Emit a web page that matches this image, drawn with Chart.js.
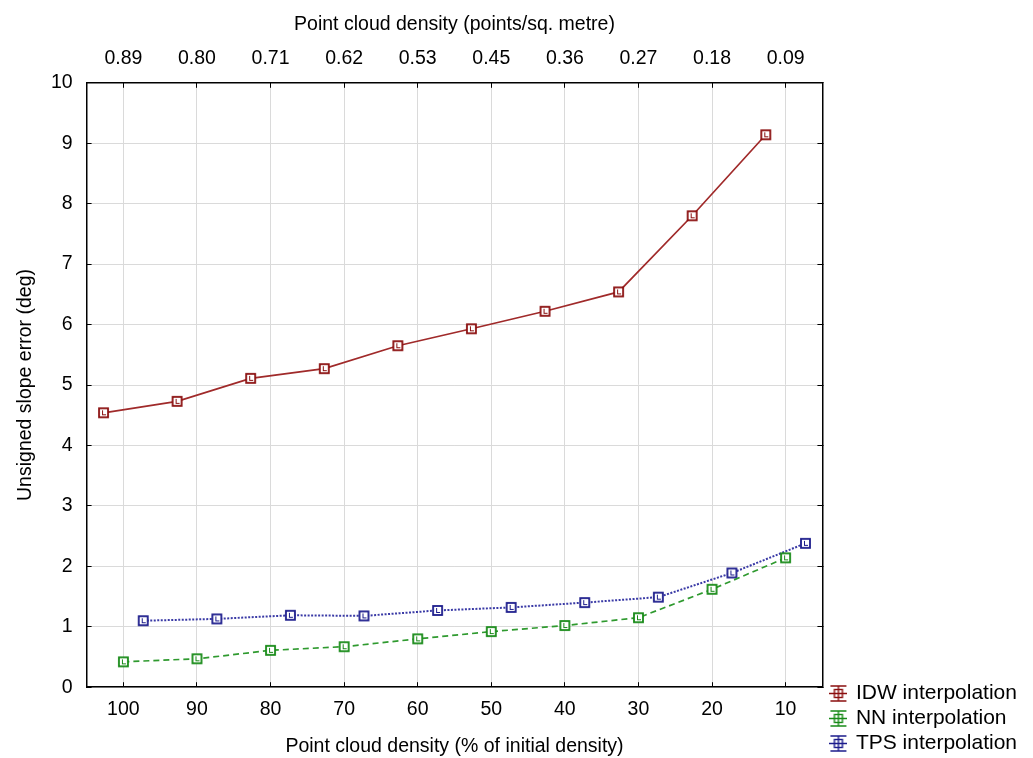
<!DOCTYPE html>
<html>
<head>
<meta charset="utf-8">
<title>Slope error vs point cloud density</title>
<script src="https://cdn.jsdelivr.net/npm/chart.js@4/dist/chart.umd.min.js"></script>
<style>
  body { margin: 0; background: #fff; }
  canvas { display: block; }
</style>
</head>
<body>
<canvas id="chart" width="1033" height="758"></canvas>
<script>
// density categories (% of initial) and matching points/sq. metre labels
const densityPct = [100, 90, 80, 70, 60, 50, 40, 30, 20, 10];
const densityPerSqM = ["0.89", "0.80", "0.71", "0.62", "0.53", "0.45", "0.36", "0.27", "0.18", "0.09"];

// unsigned slope error (deg)
const idwError = [4.54, 4.73, 5.11, 5.27, 5.65, 5.93, 6.22, 6.54, 7.80, 9.14];
const nnError = [0.42, 0.47, 0.61, 0.67, 0.80, 0.92, 1.02, 1.15, 1.62, 2.14];
const tpsError = [1.10, 1.13, 1.19, 1.18, 1.27, 1.32, 1.40, 1.49, 1.89, 2.38];

const FONT = "'Liberation Sans', Arial, sans-serif";
const SHIFT = 2.7; // series are drawn side by side around each category

// hollow square with a tiny error bar inside
function markerImage(color) {
    var c = document.createElement("canvas");
    c.width = 13;
    c.height = 13;
    var g = c.getContext("2d");
    g.fillStyle = "#fff";
    g.fillRect(2, 2, 9, 9);
    g.strokeStyle = color;
    g.lineWidth = 1.8;
    g.strokeRect(2, 2, 9, 9);
    g.lineWidth = 1;
    g.beginPath();
    g.moveTo(5.5, 4); g.lineTo(5.5, 8.5);
    g.moveTo(5, 8.5); g.lineTo(9, 8.5);
    g.stroke();
    return c;
}

function legendImage(color) {
    var c = document.createElement("canvas");
    c.width = 18;
    c.height = 17;
    var g = c.getContext("2d");
    g.strokeStyle = color;
    g.lineWidth = 1.4;
    g.beginPath();
    g.moveTo(1, 1); g.lineTo(17, 1);
    g.moveTo(1, 16); g.lineTo(17, 16);
    g.moveTo(9, 1); g.lineTo(9, 16);
    g.moveTo(0, 8.5); g.lineTo(18, 8.5);
    g.stroke();
    g.strokeRect(5, 4.5, 8, 8);
    return c;
}

function points(values, shift) {
    return values.map((v, i) => ({x: densityPct[i] + shift, y: v}));
}

function series(label, values, shift, lineColor, markColor, dash, width) {
    return {
        label: label,
        data: points(values, shift),
        borderColor: lineColor,
        backgroundColor: markColor,
        borderWidth: width,
        borderDash: dash,
        pointStyle: markerImage(markColor),
        legendImage: legendImage(markColor),
        pointRadius: 6,
        tension: 0
    };
}

const datasets = [
    series("IDW interpolation", idwError, SHIFT, "#a02a2a", "#8b0f0f", [], 1.7),
    series("NN interpolation", nnError, 0, "#2f9a2f", "#178a17", [6, 4], 1.7),
    series("TPS interpolation", tpsError, -SHIFT, "#3a3aa6", "#1c1c8c", [2, 1.5], 2)
];

function categoryTicks(axis) {
    axis.ticks = densityPct.map(v => ({value: v}));
}

const tickFont = {family: FONT, size: 19.5};
const gridColor = "#dadada";

new Chart(document.getElementById("chart"), {
    type: "line",
    data: {datasets: datasets},
    options: {
        responsive: false,
        animation: false,
        events: [],
        layout: {padding: {top: 12, left: 14, right: 6, bottom: 0}},
        scales: {
            x: {
                type: "linear",
                position: "bottom",
                reverse: true,
                min: 5,
                max: 105,
                afterBuildTicks: categoryTicks,
                grid: {color: gridColor, tickColor: "#000", tickLength: -5},
                border: {color: "#000", width: 1.5},
                ticks: {font: tickFont, color: "#000", padding: 16},
                title: {
                    display: true,
                    text: "Point cloud density (% of initial density)",
                    font: tickFont,
                    color: "#000",
                    padding: {top: -3, bottom: 0}
                }
            },
            x2: {
                type: "linear",
                position: "top",
                reverse: true,
                min: 5,
                max: 105,
                afterBuildTicks: categoryTicks,
                grid: {drawOnChartArea: false, tickColor: "#000", tickLength: -5},
                border: {color: "#000", width: 1.5},
                ticks: {
                    font: tickFont,
                    color: "#000",
                    padding: 17,
                    callback: v => densityPerSqM[densityPct.indexOf(v)]
                },
                title: {
                    display: true,
                    text: "Point cloud density (points/sq. metre)",
                    font: tickFont,
                    color: "#000",
                    padding: {top: 1, bottom: -6}
                }
            },
            y: {
                position: "left",
                min: 0,
                max: 10,
                ticks: {stepSize: 1, font: tickFont, color: "#000", padding: 19},
                grid: {color: gridColor, tickColor: "#000", tickLength: -5},
                border: {color: "#000", width: 1.5},
                title: {
                    display: true,
                    text: "Unsigned slope error (deg)",
                    font: tickFont,
                    color: "#000",
                    padding: {top: 0, bottom: -5.5}
                }
            },
            y2: {
                position: "right",
                min: 0,
                max: 10,
                ticks: {stepSize: 1, display: false},
                grid: {drawOnChartArea: false, tickColor: "#000", tickLength: -5},
                border: {color: "#000", width: 1.5},
                afterFit: function (scale) { scale.width = 5; }
            }
        },
        plugins: {
            tooltip: {enabled: false},
            legend: {
                position: "right",
                align: "end",
                maxWidth: 200,
                labels: {
                    usePointStyle: true,
                    pointStyleWidth: 14,
                    padding: 4,
                    font: {family: FONT, size: 21},
                    color: "#000",
                    generateLabels: function (chart) {
                        return chart.data.datasets.map((ds, i) => ({
                            text: ds.label,
                            pointStyle: ds.legendImage,
                            fillStyle: ds.backgroundColor,
                            strokeStyle: ds.backgroundColor,
                            lineWidth: 0,
                            hidden: false,
                            datasetIndex: i
                        }));
                    }
                }
            }
        }
    }
});
</script>
</body>
</html>
